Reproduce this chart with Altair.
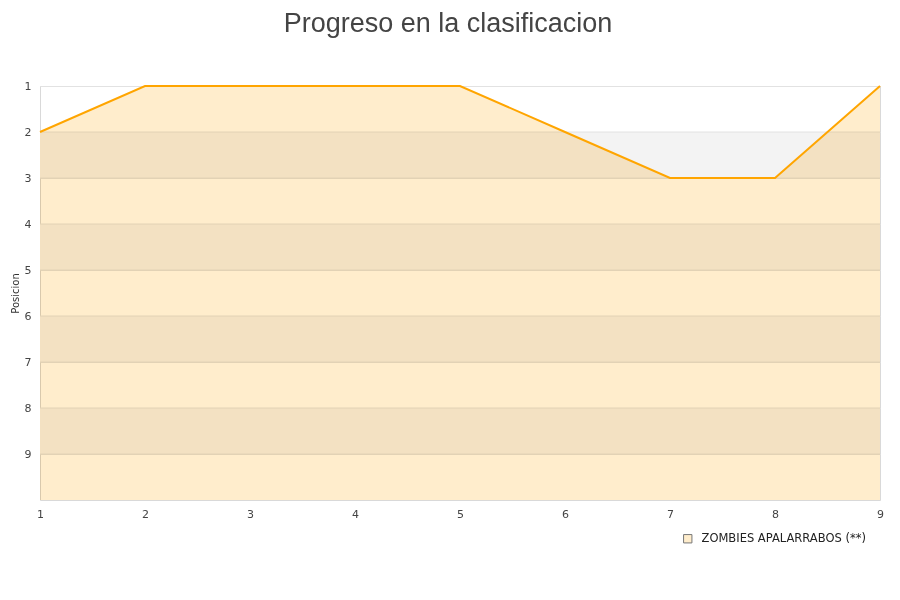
import altair as alt
import pandas as pd

jornadas = [1, 2, 3, 4, 5, 6, 7, 8, 9]
posicion = [2, 1, 1, 1, 1, 2, 3, 3, 1]
equipo = "ZOMBIES APALARRABOS (**)"
pos_min, pos_max = 1, 10
band_starts = [2, 4, 6, 8]

df = pd.DataFrame({"jornada": jornadas, "pos": posicion, "equipo": equipo, "base": pos_max})
bands = pd.DataFrame({
    "y": band_starts,
    "y2": [b + 1 for b in band_starts],
    "x": min(jornadas),
    "x2": max(jornadas),
})

xscale = alt.Scale(domain=[min(jornadas), max(jornadas)], nice=False, zero=False)
yscale = alt.Scale(domain=[pos_min, pos_max], reverse=True, nice=False, zero=False)

xaxis = alt.Axis(values=jornadas, title=None, ticks=False, domain=False, grid=False,
                 labelPadding=8, labelFont="DejaVu Sans", labelFontSize=11,
                 labelColor="#444", format="d", labelFlush=False)
yaxis = alt.Axis(values=list(range(1, 10)), title="Posicion", ticks=False, domain=False,
                 grid=True, gridColor="#e2e2e2", gridWidth=1,
                 labelPadding=9, labelFont="DejaVu Sans", labelFontSize=11,
                 labelColor="#444", titleFont="DejaVu Sans", titleFontSize=10,
                 titleFontWeight="normal", titleColor="#333", titlePadding=4, format="d")

band_layer = alt.Chart(bands).mark_rect(color="#f3f3f3").encode(
    x=alt.X("x:Q", scale=xscale, axis=xaxis),
    x2="x2:Q",
    y=alt.Y("y:Q", scale=yscale, axis=yaxis),
    y2="y2:Q",
)

grid_layer = alt.Chart(pd.DataFrame({"g": list(range(2, 10))})).mark_rule(
    color="#e2e2e2", strokeWidth=1
).encode(y=alt.Y("g:Q", scale=yscale))

area = alt.Chart(df).mark_area(blend="multiply", interpolate="linear").encode(
    x=alt.X("jornada:Q", scale=xscale),
    y=alt.Y("pos:Q", scale=yscale),
    y2="base:Q",
    color=alt.Color("equipo:N", scale=alt.Scale(range=["#ffedcc"]),
                    legend=alt.Legend(title=None, orient="none", legendX=642, legendY=447,
                                      symbolType="square", symbolSize=70,
                                      symbolStrokeColor="#777", symbolStrokeWidth=1,
                                      labelFont="DejaVu Sans", labelFontSize=11.5,
                                      labelLimit=400,
                                      labelColor="#222", padding=0, labelOffset=8)),
)

line = alt.Chart(df).mark_line(color="#ffa500", strokeWidth=2).encode(
    x=alt.X("jornada:Q", scale=xscale),
    y=alt.Y("pos:Q", scale=yscale),
)

chart = alt.layer(band_layer, grid_layer, area, line).properties(
    width=840,
    height=414,
    autosize=alt.AutoSizeParams(type="none"),
    padding={"left": 32, "top": 78, "right": 12, "bottom": 92},
    title=alt.Title("Progreso en la clasificacion", font="Liberation Sans", fontSize=27,
                    fontWeight="normal", color="#444", anchor="middle", dx=-12, offset=42),
).configure_view(stroke="#d9d9d9", strokeWidth=1)

chart.save("out.html", embed_options={"renderer": "svg", "actions": False})
